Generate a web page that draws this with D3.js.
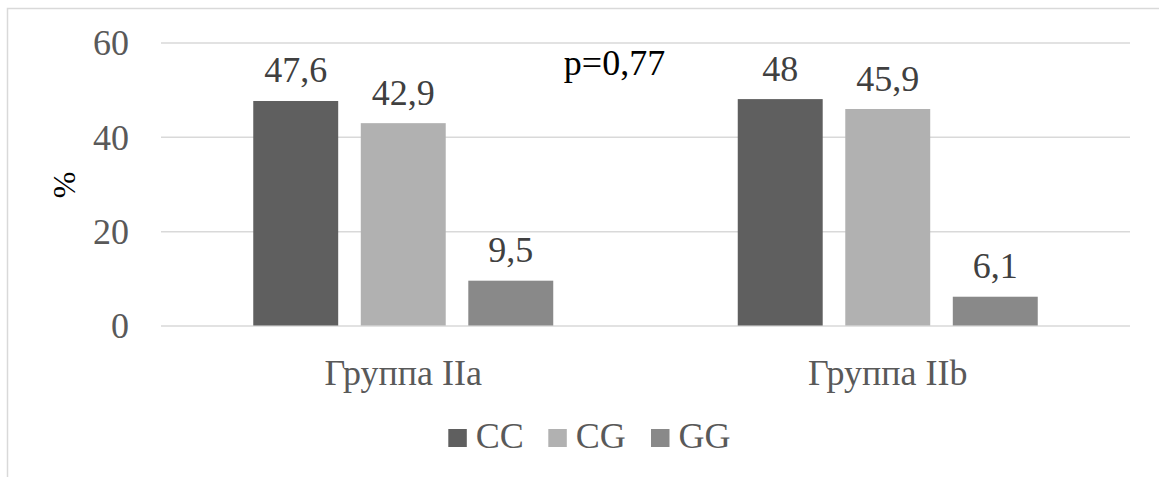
<!DOCTYPE html>
<html>
<head>
<meta charset="utf-8">
<script src="https://cdn.jsdelivr.net/npm/d3@7"></script>
<style>
  html, body { margin: 0; padding: 0; background: #fff; }
  svg text { font-family: "Liberation Serif", Tinos, "Times New Roman", "DejaVu Serif", serif; }
</style>
</head>
<body>
<svg id="chart" width="1159" height="477"></svg>
<script>
// Genotype frequencies (%) by group
const groups = ["Группа IIa", "Группа IIb"];
const genotypes = ["CC", "CG", "GG"];
const valuesCC = [47.6, 48];
const valuesCG = [42.9, 45.9];
const valuesGG = [9.5, 6.1];
const valueLabelsCC = ["47,6", "48"];
const valueLabelsCG = ["42,9", "45,9"];
const valueLabelsGG = ["9,5", "6,1"];
const yTicks = [0, 20, 40, 60];
const pLabel = "p=0,77";
const yTitle = "%";

const colors = { CC: "#5f5f5f", CG: "#b1b1b1", GG: "#898989" };
const FONT = '"Liberation Serif", Tinos, "Times New Roman", "DejaVu Serif", serif';

const seriesValues = { CC: valuesCC, CG: valuesCG, GG: valuesGG };
const seriesLabels = { CC: valueLabelsCC, CG: valueLabelsCG, GG: valueLabelsGG };

const svg = d3.select("#chart");

// outer chart frame
svg.append("rect")
  .attr("x", 7.5).attr("y", 8.5)
  .attr("width", 1200).attr("height", 600)
  .attr("fill", "none").attr("stroke", "#d9d9d9").attr("stroke-width", 1.5);

const plot = { left: 161, right: 1130, top: 42.5, bottom: 325.5 };

const y = d3.scaleLinear().domain([0, 60]).range([plot.bottom, plot.top]);
const x0 = d3.scaleBand().domain(groups).range([plot.left, plot.right]).paddingInner(0).paddingOuter(0);
const x1 = d3.scaleBand().domain(genotypes).range([0, x0.bandwidth()])
  .paddingInner(0.21).paddingOuter(0.858);

// gridlines and tick labels
const yAxis = d3.axisLeft(y).tickValues(yTicks).tickSize(-(plot.right - plot.left)).tickFormat(d => d);
const gy = svg.append("g").attr("transform", `translate(${plot.left},0)`).call(yAxis)
  .attr("font-family", FONT).attr("font-size", 36);
gy.select(".domain").remove();
gy.selectAll(".tick line").attr("stroke", "#d9d9d9").attr("stroke-width", 1.5);
gy.selectAll(".tick text")
  .attr("x", -32).attr("dy", "0.34em")
  .attr("fill", "#595959");

// bars
const groupG = svg.append("g").selectAll("g")
  .data(groups)
  .join("g")
  .attr("transform", d => `translate(${x0(d)},0)`);

groupG.selectAll("rect")
  .data((g, i) => genotypes.map(k => ({ k, v: seriesValues[k][i] })))
  .join("rect")
  .attr("x", d => x1(d.k))
  .attr("width", x1.bandwidth())
  .attr("y", d => y(d.v))
  .attr("height", d => y(0) - y(d.v))
  .attr("fill", d => colors[d.k]);

// value labels
groupG.selectAll("text.val")
  .data((g, i) => genotypes.map(k => ({ k, v: seriesValues[k][i], t: seriesLabels[k][i] })))
  .join("text")
  .attr("class", "val")
  .attr("x", d => x1(d.k) + x1.bandwidth() / 2)
  .attr("y", d => y(d.v) - 18.5)
  .attr("text-anchor", "middle")
  .attr("fill", "#404040")
  .attr("font-size", 36)
  .text(d => d.t);

// category labels
svg.append("g").selectAll("text")
  .data(groups)
  .join("text")
  .attr("x", d => x0(d) + x0.bandwidth() / 2)
  .attr("y", 385)
  .attr("text-anchor", "middle")
  .attr("fill", "#595959")
  .attr("font-size", 36)
  .text(d => d);

// p-value annotation
svg.append("text")
  .attr("x", 614.5).attr("y", 75)
  .attr("text-anchor", "middle")
  .attr("fill", "#000")
  .attr("font-size", 36)
  .text(pLabel);

// axis title
svg.append("text")
  .attr("transform", "translate(75,185) rotate(-90)")
  .attr("text-anchor", "middle")
  .attr("fill", "#000")
  .attr("font-size", 32)
  .text(yTitle);

// legend
const legendX = [448.3, 548.3, 651];
const legend = svg.append("g").selectAll("g")
  .data(genotypes)
  .join("g")
  .attr("transform", (d, i) => `translate(${legendX[i]},429)`);
legend.append("rect")
  .attr("width", 18.5).attr("height", 18)
  .attr("fill", d => colors[d]);
legend.append("text")
  .attr("x", 27.5).attr("y", 18.5)
  .attr("fill", "#595959")
  .attr("font-size", 36)
  .text(d => d);
</script>
</body>
</html>
